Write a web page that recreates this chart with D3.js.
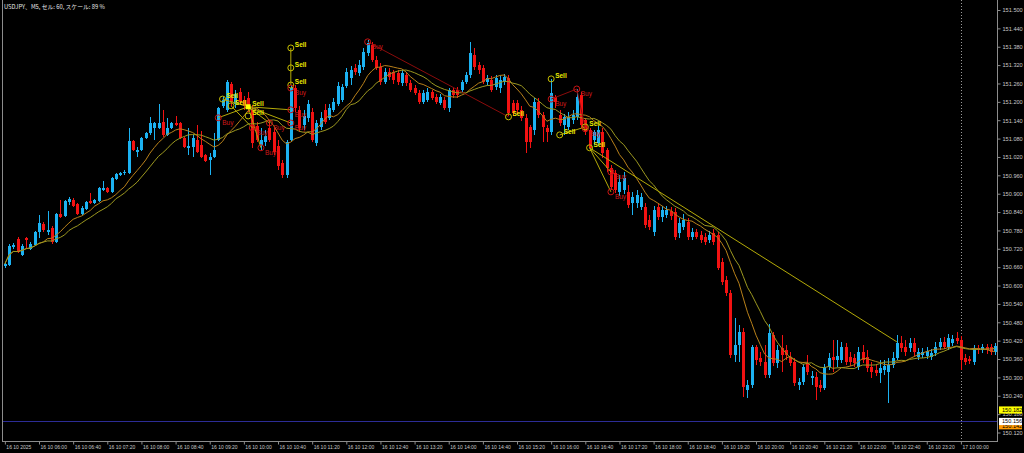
<!DOCTYPE html>
<html><head><meta charset="utf-8">
<script src="https://cdn.jsdelivr.net/npm/d3@7"></script>
<style>html,body{margin:0;padding:0;background:#000;}svg{display:block;}</style>
</head><body>
<svg id="c" width="1024" height="453"></svg>
<script>
const title = "USDJPY、M5, セル: 60, スケール: 89 %";
const startTime = "2025-10-16 05:20";

const open = [150.664,150.667,150.726,150.752,150.700,150.756,150.720,150.733,150.775,150.801,
150.775,150.788,150.743,150.834,150.828,150.873,150.880,150.867,150.834,150.850,
150.877,150.870,150.877,150.912,150.919,150.906,150.948,150.961,150.968,150.968,
151.072,151.037,151.043,151.082,151.099,151.115,151.115,151.135,151.092,151.115,
151.131,151.131,151.082,151.050,151.053,151.076,151.059,151.027,151.010,151.020,
151.076,151.187,151.174,151.258,151.193,151.232,151.206,151.213,151.174,151.121,
151.059,151.069,151.115,151.102,151.056,151.001,150.961,151.076,151.245,151.174,
151.125,151.148,151.167,151.066,151.118,151.174,151.148,151.174,151.193,151.206,
151.252,151.278,151.311,151.294,151.314,151.360,151.386,151.337,151.314,151.265,
151.298,151.298,151.294,151.262,151.288,151.262,151.245,151.229,151.200,151.206,
151.232,151.216,151.196,151.206,151.180,151.239,151.239,151.239,151.265,151.288,
151.353,151.320,151.311,151.265,151.271,151.249,151.245,151.265,151.278,151.196,
151.196,151.174,151.148,151.118,151.108,151.200,151.157,151.115,151.102,151.216,
151.157,151.125,151.118,151.141,151.151,151.223,151.141,151.108,151.076,151.066,
151.102,151.043,150.984,150.968,150.906,150.912,150.906,150.870,150.870,150.857,
150.857,150.814,150.775,150.857,150.824,150.831,150.844,150.841,150.772,150.792,
150.808,150.759,150.775,150.765,150.759,150.749,150.772,150.765,150.677,150.618,
150.576,150.374,150.406,150.449,150.259,150.276,150.400,150.364,150.351,150.308,
150.439,150.347,150.396,150.390,150.367,150.351,150.276,150.285,150.347,150.298,
150.302,150.276,150.266,150.334,150.367,150.357,150.357,150.400,150.367,150.364,
150.334,150.383,150.367,150.334,150.324,150.315,150.324,150.318,150.341,150.364,
150.413,150.400,150.396,150.413,150.367,150.374,150.370,150.367,150.380,150.400,
150.416,150.400,150.413,150.429,150.422,150.364,150.361,150.351,150.396,150.390,
150.400,150.400,150.383];

const high = [150.677,150.736,150.739,150.759,150.736,150.759,150.743,150.779,150.831,150.808,
150.844,150.795,150.837,150.880,150.880,150.890,150.886,150.870,150.860,150.877,
150.903,150.883,150.922,150.942,150.922,150.955,150.968,150.971,150.978,151.115,
151.076,151.053,151.086,151.102,151.151,151.135,151.193,151.174,151.148,151.135,
151.154,151.135,151.086,151.115,151.092,151.125,151.105,151.030,151.033,151.099,
151.184,151.216,151.271,151.265,151.239,151.245,151.219,151.232,151.190,151.135,
151.115,151.108,151.141,151.115,151.076,151.010,151.076,151.255,151.255,151.187,
151.174,151.206,151.180,151.141,151.167,151.193,151.193,151.213,151.265,151.258,
151.311,151.317,151.324,151.337,151.376,151.402,151.396,151.350,151.327,151.311,
151.311,151.304,151.304,151.304,151.298,151.271,151.255,151.239,151.239,151.245,
151.239,151.226,151.226,151.216,151.245,151.245,151.249,151.271,151.298,151.396,
151.376,151.330,151.320,151.288,151.285,151.288,151.285,151.291,151.288,151.206,
151.206,151.187,151.161,151.125,151.213,151.213,151.167,151.125,151.275,151.223,
151.174,151.161,151.167,151.174,151.242,151.232,151.148,151.115,151.108,151.121,
151.115,151.050,150.994,150.978,150.961,150.971,150.929,150.906,150.912,150.903,
150.870,150.831,150.860,150.870,150.860,150.860,150.857,150.854,150.821,150.834,
150.821,150.788,150.785,150.779,150.772,150.779,150.785,150.775,150.690,150.632,
150.586,150.494,150.472,150.462,150.292,150.406,150.406,150.383,150.406,150.475,
150.449,150.406,150.439,150.406,150.383,150.364,150.298,150.344,150.374,150.321,
150.318,150.292,150.344,150.380,150.422,150.422,150.416,150.413,150.383,150.377,
150.400,150.406,150.390,150.351,150.341,150.357,150.357,150.364,150.383,150.439,
150.436,150.422,150.429,150.429,150.396,150.396,150.400,150.393,150.416,150.429,
150.432,150.442,150.439,150.449,150.436,150.377,150.370,150.406,150.406,150.410,
150.410,150.410,150.413];

const low = [150.658,150.664,150.720,150.707,150.697,150.723,150.716,150.730,150.756,150.775,
150.765,150.736,150.739,150.821,150.824,150.863,150.857,150.831,150.831,150.847,
150.867,150.867,150.873,150.909,150.903,150.903,150.945,150.958,150.961,150.965,
151.040,151.020,151.040,151.079,151.092,151.076,151.112,151.086,151.089,151.112,
151.121,151.079,151.050,151.027,151.020,151.033,151.017,151.004,150.961,151.017,
151.072,151.180,151.167,151.187,151.180,151.190,151.174,151.167,151.050,151.069,
151.043,151.056,151.069,151.027,150.978,150.952,150.952,151.069,151.167,151.102,
151.108,151.135,151.069,151.056,151.108,151.128,151.141,151.167,151.187,151.200,
151.245,151.255,151.288,151.285,151.304,151.350,151.330,151.304,151.255,151.258,
151.271,151.258,151.255,151.252,151.252,151.232,151.223,151.193,151.193,151.200,
151.206,151.193,151.190,151.174,151.167,151.213,151.213,151.229,151.258,151.278,
151.304,151.291,151.258,151.255,151.232,151.239,151.229,151.255,151.154,151.154,
151.161,151.138,151.033,151.050,151.092,151.148,151.069,151.069,151.092,151.180,
151.121,151.092,151.108,151.128,151.141,151.115,151.092,151.043,151.059,151.056,
151.017,150.971,150.912,150.903,150.893,150.899,150.854,150.831,150.854,150.847,
150.788,150.782,150.762,150.814,150.808,150.821,150.814,150.749,150.756,150.782,
150.749,150.749,150.752,150.739,150.733,150.739,150.733,150.651,150.602,150.566,
150.364,150.351,150.351,150.236,150.233,150.266,150.341,150.338,150.298,150.298,
150.338,150.331,150.318,150.357,150.338,150.272,150.259,150.276,150.308,150.276,
150.226,150.253,150.259,150.324,150.318,150.334,150.347,150.341,150.338,150.334,
150.324,150.347,150.318,150.298,150.305,150.282,150.308,150.217,150.331,150.357,
150.383,150.370,150.383,150.370,150.357,150.364,150.361,150.357,150.370,150.390,
150.393,150.390,150.403,150.410,150.324,150.341,150.344,150.341,150.377,150.380,
150.377,150.374,150.374];

const close = [150.671,150.730,150.733,150.710,150.730,150.749,150.736,150.775,150.805,150.782,
150.782,150.743,150.834,150.824,150.877,150.883,150.860,150.834,150.854,150.873,
150.870,150.880,150.919,150.919,150.906,150.952,150.965,150.968,150.971,151.072,
151.043,151.043,151.082,151.099,151.131,151.131,151.131,151.092,151.115,151.131,
151.125,151.082,151.053,151.056,151.082,151.037,151.020,151.007,151.020,151.043,
151.180,151.207,151.265,151.200,151.226,151.200,151.187,151.187,151.066,151.076,
151.076,151.089,151.076,151.037,150.991,150.961,151.069,151.245,151.180,151.115,
151.154,151.193,151.076,151.131,151.148,151.135,151.180,151.200,151.252,151.249,
151.298,151.304,151.298,151.320,151.363,151.392,151.337,151.311,151.265,151.298,
151.281,151.271,151.265,151.294,151.262,151.239,151.229,151.200,151.229,151.232,
151.213,151.200,151.216,151.180,151.239,151.223,151.223,151.265,151.288,151.360,
151.314,151.304,151.265,151.278,151.239,151.278,151.271,151.281,151.164,151.164,
151.174,151.148,151.069,151.069,151.200,151.157,151.118,151.102,151.229,151.200,
151.131,151.151,151.151,151.157,151.216,151.125,151.102,151.050,151.102,151.108,
151.033,150.984,150.922,150.912,150.939,150.952,150.863,150.890,150.896,150.890,
150.798,150.792,150.847,150.824,150.847,150.847,150.828,150.759,150.805,150.814,
150.759,150.775,150.759,150.749,150.743,150.765,150.743,150.658,150.612,150.576,
150.374,150.406,150.449,150.269,150.276,150.400,150.357,150.351,150.308,150.445,
150.347,150.390,150.374,150.374,150.347,150.282,150.285,150.334,150.318,150.305,
150.269,150.266,150.334,150.364,150.357,150.370,150.400,150.351,150.351,150.347,
150.383,150.357,150.331,150.318,150.315,150.331,150.338,150.341,150.364,150.413,
150.396,150.383,150.413,150.383,150.383,150.383,150.387,150.380,150.400,150.416,
150.400,150.429,150.426,150.419,150.357,150.351,150.354,150.396,150.390,150.400,
150.390,150.383,150.403];

const priceTicks = [151.500,151.440,151.380,151.320,151.260,151.200,151.140,151.080,151.020,150.960,
150.900,150.840,150.780,150.720,150.660,150.600,150.540,150.480,150.420,150.360,150.300,150.240,150.180,150.120];

const timeTicks = ["2025-10-16 05:20","2025-10-16 06:00","2025-10-16 06:40","2025-10-16 07:20","2025-10-16 08:00",
"2025-10-16 08:40","2025-10-16 09:20","2025-10-16 10:00","2025-10-16 10:40","2025-10-16 11:20","2025-10-16 12:00",
"2025-10-16 12:40","2025-10-16 13:20","2025-10-16 14:00","2025-10-16 14:40","2025-10-16 15:20","2025-10-16 16:00",
"2025-10-16 16:40","2025-10-16 17:20","2025-10-16 18:00","2025-10-16 18:40","2025-10-16 19:20","2025-10-16 20:00",
"2025-10-16 20:40","2025-10-16 21:20","2025-10-16 22:00","2025-10-16 22:40","2025-10-16 23:20","2025-10-17 00:00"];

const daySeparator = "2025-10-17 00:00";
const bidLine = 150.156;
const priceTags = [150.142, 150.182, 150.156];
const priceTagColors = ["#ff9a00", "#ffff00", "#ffffff"];
const maPeriods = [10, 15];
const maColors = ["#b8801a", "#9c9820"];

// trade markers: [bar index, price]
const sellMarks = [[67,151.376],[67,151.311],[67,151.255],[51,151.209],[53,151.187],[57,151.154],
  [118,151.151],[128,151.275],[130,151.092],[136,151.118],[137,151.050]];
const sellBoxes = [[57,151.184]];
const buyMarks = [[50,151.148],[58,151.115],[60,151.050],[62,151.131],[67,151.174],[67,151.131],[67,151.245],
  [85,151.396],[128,151.209],[134,151.242],[136,151.112],[142,150.906],[142,150.971]];
const sellLines = [
  [[67,151.376],[67,151.255]],
  [[50,151.148],[57,151.184]],
  [[51,151.209],[57,151.184]],
  [[57,151.184],[67,151.174]],
  [[57,151.184],[67,151.131]],
  [[57,151.184],[60,151.050]],
  [[57,151.184],[62,151.131]],
  [[53,151.187],[58,151.115]],
  [[130,151.092],[136,151.118]],
  [[137,151.050],[142,150.906]],
  [[137,151.050],[142,150.971]],
  [[137,151.050],[209,150.416]]
];
const buyLines = [
  [[85,151.396],[118,151.151]],
  [[128,151.209],[134,151.242]],
  [[134,151.242],[136,151.112]]
];

const svg = d3.select("#c");
svg.append("rect").attr("width",1024).attr("height",453).attr("fill","#000");
const parse = d3.timeParse("%Y-%m-%d %H:%M");
const t0 = parse(startTime);
const N = close.length;
const bt = i => d3.timeMinute.offset(t0, 5*i);
const L = 2.5, R = 997.5, B = 441.5;
const x = d3.scaleTime().domain([bt(0), bt(N-1)]).range([4.86, 995.04]);
const y = d3.scaleLinear().domain([150.12, 151.5]).range([432.5, 10]);
const xi = i => x(bt(i));

svg.append("defs").append("clipPath").attr("id","clip")
  .append("rect").attr("x",L).attr("y",0).attr("width",R-L).attr("height",B);

const plot = svg.append("g").attr("clip-path","url(#clip)");

// day separator
plot.append("line")
  .attr("x1",Math.round(x(parse(daySeparator)))+0.5).attr("x2",Math.round(x(parse(daySeparator)))+0.5)
  .attr("y1",0).attr("y2",B).attr("stroke","#9a9a9a").attr("stroke-dasharray","1,2");

// bid line
plot.append("line").attr("x1",L).attr("x2",R)
  .attr("y1",Math.round(y(bidLine))+0.5).attr("y2",Math.round(y(bidLine))+0.5)
  .attr("stroke","#2c2c96");

// candles
const idx = d3.range(N);
const col = i => close[i] >= open[i] ? "#1cb2f2" : "#f21212";
const cg = plot.append("g").attr("shape-rendering","crispEdges");
cg.selectAll("line.w").data(idx).join("line").attr("class","w")
  .attr("x1",i=>Math.round(xi(i))+0.5).attr("x2",i=>Math.round(xi(i))+0.5)
  .attr("y1",i=>y(high[i])).attr("y2",i=>y(low[i]))
  .attr("stroke",col);
cg.selectAll("rect.b").data(idx).join("rect").attr("class","b")
  .attr("x",i=>Math.round(xi(i))-1).attr("width",3)
  .attr("y",i=>y(Math.max(open[i],close[i])))
  .attr("height",i=>Math.max(1, y(Math.min(open[i],close[i]))-y(Math.max(open[i],close[i]))))
  .attr("fill",col);

// moving averages
function sma(n){ return close.map((c,i)=>d3.mean(close.slice(Math.max(0,i-n+1), i+1))); }
maPeriods.forEach((n,k)=>{
  const m = sma(n);
  plot.append("path").datum(idx)
    .attr("d", d3.line().x(i=>xi(i)).y(i=>y(m[i])))
    .attr("fill","none").attr("stroke",maColors[k]).attr("stroke-width",1);
});

// trade lines
const segLine = d3.line().x(d=>xi(d[0])).y(d=>y(d[1]));
plot.selectAll("path.sl").data(sellLines).join("path").attr("class","sl")
  .attr("d",segLine).attr("fill","none").attr("stroke","#b4aa08").attr("stroke-width",1);
plot.selectAll("path.bl").data(buyLines).join("path").attr("class","bl")
  .attr("d",segLine).attr("fill","none").attr("stroke","#8c0c0c").attr("stroke-width",1);

// markers
plot.selectAll("circle.s").data(sellMarks).join("circle").attr("class","s")
  .attr("cx",d=>xi(d[0])).attr("cy",d=>y(d[1])).attr("r",3)
  .attr("fill","none").attr("stroke","#c8c000");
plot.selectAll("circle.bm").data(buyMarks).join("circle").attr("class","bm")
  .attr("cx",d=>xi(d[0])).attr("cy",d=>y(d[1])).attr("r",3)
  .attr("fill","none").attr("stroke","#c81414");
plot.selectAll("rect.sb").data(sellBoxes).join("rect").attr("class","sb")
  .attr("x",d=>xi(d[0])-2.5).attr("y",d=>y(d[1])-2.5).attr("width",5).attr("height",5)
  .attr("fill","#ffff00");
plot.selectAll("text.s").data(sellMarks.concat(sellBoxes)).join("text").attr("class","s")
  .attr("x",d=>xi(d[0])+4).attr("y",d=>y(d[1])-1)
  .attr("fill","#eaea00").attr("font-size",6.5).attr("font-weight","bold")
  .attr("font-family","Liberation Sans, Arial, sans-serif").text("Sell");
plot.selectAll("text.b").data(buyMarks).join("text").attr("class","b")
  .attr("x",d=>xi(d[0])+4).attr("y",d=>y(d[1])+7)
  .attr("fill","#d01818").attr("font-size",6.5)
  .attr("font-family","Liberation Sans, Arial, sans-serif").text("Buy");

// borders
const bord = svg.append("g").attr("stroke","#8c8c8c").attr("shape-rendering","crispEdges");
bord.append("line").attr("x1",L).attr("x2",L).attr("y1",0).attr("y2",B);
bord.append("line").attr("x1",L).attr("x2",R).attr("y1",B).attr("y2",B);
bord.append("line").attr("x1",R).attr("x2",R).attr("y1",0).attr("y2",B);

// right axis
const fmt3 = d3.format(".3f");
const ya = svg.append("g").attr("transform",`translate(${R},0)`)
  .call(d3.axisRight(y).tickValues(priceTicks).tickSize(3).tickPadding(2).tickFormat(fmt3));
ya.select(".domain").remove();
ya.selectAll("line").attr("stroke","#8c8c8c");
ya.selectAll("text").attr("fill","#c8c8c8").attr("font-size",5.6)
  .attr("font-family","Liberation Sans, Arial, sans-serif");

// price tags
const tagShift = [0, -3.5, 0];
priceTags.forEach((p,k)=>{
  const cy = y(p) + tagShift[k];
  svg.append("rect").attr("x",R+1.5).attr("y",cy-3.6).attr("width",23).attr("height",7.2)
    .attr("fill",priceTagColors[k]);
  svg.append("text").attr("x",R+4.5).attr("y",cy+2).attr("fill","#000").attr("font-size",5.6)
    .attr("font-family","Liberation Sans, Arial, sans-serif").text(fmt3(p));
});

// bottom axis
const tt = timeTicks.map(parse);
const xa = svg.append("g").attr("transform",`translate(0,${B})`)
  .call(d3.axisBottom(x).tickValues(tt).tickSize(3).tickPadding(1)
    .tickFormat((d,k)=> k===0 ? d3.timeFormat("%d %m %Y")(d) : d3.timeFormat("%d %m %H:%M")(d)));
xa.select(".domain").remove();
xa.selectAll("line").attr("stroke","#8c8c8c");
xa.selectAll("text").attr("fill","#c8c8c8").attr("font-size",5)
  .attr("text-anchor","start").attr("dx",1)
  .attr("font-family","Liberation Sans, Arial, sans-serif");

// title
svg.append("text").attr("x",4).attr("y",9).attr("fill","#e6e6e6").attr("font-size",5.8)
  .attr("font-family","Noto Sans CJK JP, sans-serif").text(title);
</script>
</body></html>
